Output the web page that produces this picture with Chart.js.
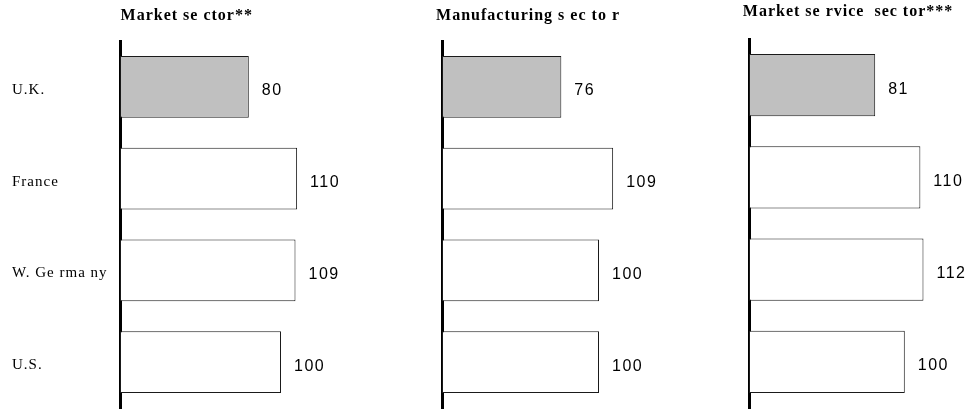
<!DOCTYPE html>
<html>
<head>
<meta charset="utf-8">
<title>Relative productivity by sector</title>
<script src="https://cdn.jsdelivr.net/npm/chart.js@4/dist/chart.umd.min.js"></script>
<style>
  html, body { margin: 0; padding: 0; background: #fff; overflow: hidden; }
  #wrap { position: relative; width: 972px; height: 410px; }
  #wrap canvas { position: absolute; top: 0; }
</style>
</head>
<body>
<div id="wrap">
  <canvas id="marketChart" width="372" height="410" style="left:0px"></canvas>
  <canvas id="manufacturingChart" width="246" height="410" style="left:410px"></canvas>
  <canvas id="serviceChart" width="243" height="410" style="left:729px"></canvas>
</div>
<script>
// --- data ---
const countries = ["U.K.", "France", "W. Ge rma ny", "U.S."];
const marketSector = [80, 110, 109, 100];
const manufacturingSector = [76, 109, 100, 100];
const marketServiceSector = [81, 110, 112, 100];
const panelTitles = ["Market se ctor**", "Manufacturing s ec to r", "Market se rvice  sec tor***"];
const barColors = ["#c0c0c0", "#ffffff", "#ffffff", "#ffffff"];

const SERIF = '"Liberation Serif", "Times New Roman", serif';
const SANS = '"Liberation Sans", Arial, sans-serif';

// slightly wider tracking for every text drawn by the chart itself
const tracking = {
  id: "tracking",
  beforeDraw(chart) {
    chart.ctx.letterSpacing = "1px";
  }
};

// number printed just past the end of each bar
const valueLabels = {
  id: "valueLabels",
  afterDatasetsDraw(chart) {
    const ctx = chart.ctx;
    const values = chart.data.datasets[0].data;
    ctx.save();
    ctx.font = "16px " + SANS;
    ctx.letterSpacing = "1.5px";
    ctx.fillStyle = "#000";
    ctx.textAlign = "left";
    ctx.textBaseline = "middle";
    chart.getDatasetMeta(0).data.forEach((bar, i) => {
      ctx.fillText(String(values[i]), bar.x + 13, bar.y + 4);
    });
    ctx.restore();
  }
};

function makePanel(canvasId, title, values, opts) {
  return new Chart(document.getElementById(canvasId), {
    type: "bar",
    data: {
      labels: countries,
      datasets: [{
        data: values,
        backgroundColor: barColors,
        borderColor: "#1a1a1a",
        borderWidth: 1,
        borderSkipped: false,
        categoryPercentage: 1,
        barPercentage: 0.674
      }]
    },
    options: {
      indexAxis: "y",
      responsive: false,
      animation: false,
      layout: { padding: { left: opts.padLeft, right: opts.padRight, top: 0, bottom: 2 } },
      plugins: {
        legend: { display: false },
        tooltip: { enabled: false },
        title: {
          display: true,
          text: title,
          color: "#000",
          font: { family: SERIF, size: 16, weight: "bold" },
          padding: { top: opts.titleTop, bottom: opts.titleBottom }
        }
      },
      scales: {
        x: { display: false, min: 0, max: opts.max },
        y: {
          // fixed axis width, and no extra room reserved for the end labels
          afterFit: (scale) => {
            scale.width = opts.axisWidth;
            scale.paddingTop = 0;
            scale.paddingBottom = 0;
          },
          grid: { display: false, drawTicks: false },
          border: { display: true, color: "#000", width: 3 },
          ticks: {
            display: opts.showLabels,
            crossAlign: "far",
            labelOffset: 3,
            color: "#000",
            font: { family: SERIF, size: 15 }
          }
        }
      }
    },
    plugins: [tracking, valueLabels]
  });
}

makePanel("marketChart", panelTitles[0], marketSector,
  { padLeft: 12, padRight: 10.5, axisWidth: 108, max: 150, showLabels: true, titleTop: 6, titleBottom: 15.8 });
makePanel("manufacturingChart", panelTitles[1], manufacturingSector,
  { padLeft: 0, padRight: 9.9, axisWidth: 32, max: 130, showLabels: false, titleTop: 6, titleBottom: 15.8 });
makePanel("serviceChart", panelTitles[2], marketServiceSector,
  { padLeft: 0, padRight: 4.9, axisWidth: 20, max: 140, showLabels: false, titleTop: 2.5, titleBottom: 17.3 });
</script>
</body>
</html>
